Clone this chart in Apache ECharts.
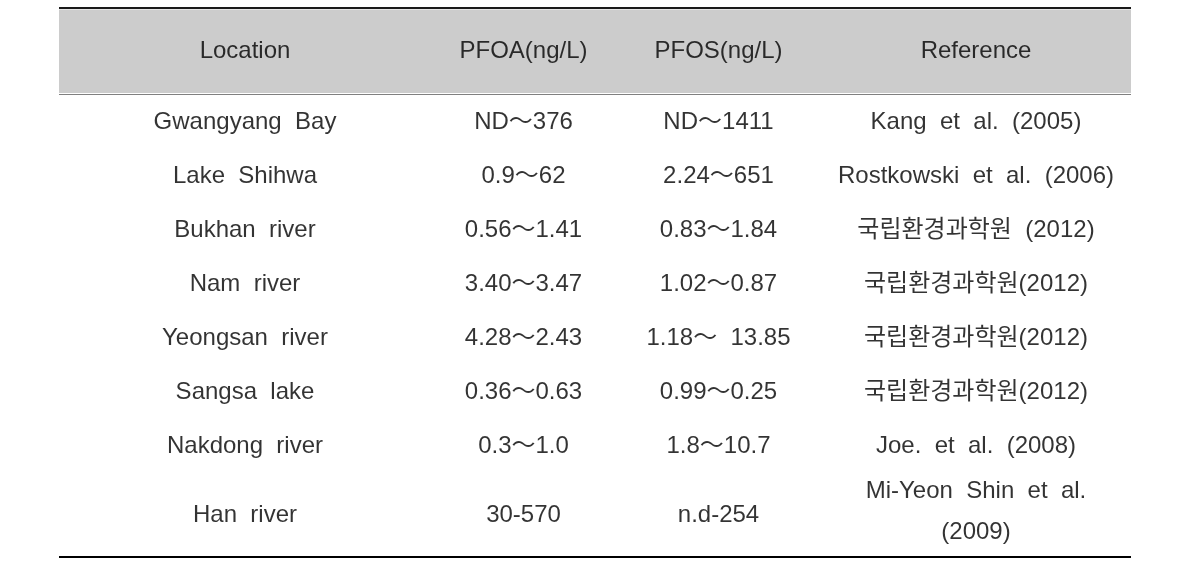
<!DOCTYPE html>
<html>
<head>
<meta charset="utf-8">
<script src="https://cdn.jsdelivr.net/npm/echarts@6/dist/echarts.min.js"></script>
<style>html,body{margin:0;padding:0;background:#fff;}#c{width:1189px;height:576px;}</style>
</head>
<body>
<div id="c"></div>
<script>
// ---- data ----
const headers = ['Location', 'PFOA(ng/L)', 'PFOS(ng/L)', 'Reference'];
const locations = ['Gwangyang  Bay', 'Lake  Shihwa', 'Bukhan  river', 'Nam  river', 'Yeongsan  river', 'Sangsa  lake', 'Nakdong  river', 'Han  river'];
const pfoa = ['ND～376', '0.9～62', '0.56～1.41', '3.40～3.47', '4.28～2.43', '0.36～0.63', '0.3～1.0', '30-570'];
const pfos = ['ND～1411', '2.24～651', '0.83～1.84', '1.02～0.87', '1.18～  13.85', '0.99～0.25', '1.8～10.7', 'n.d-254'];
const references = ['Kang  et  al.  (2005)', 'Rostkowski  et  al.  (2006)', '국립환경과학원  (2012)', '국립환경과학원(2012)', '국립환경과학원(2012)', '국립환경과학원(2012)', 'Joe.  et  al.  (2008)', 'Mi-Yeon  Shin  et  al.\n(2009)'];

// ---- layout (sizes in axis units) ----
const colWidths = [372, 185, 205, 310];
const tableH = 549;
const headerH = 86;
const firstRowOffset = 28;
const rowPitch = 54;
const lastRowExtra = 15;
const lastRowRefShift = -3;

const totalW = colWidths.reduce((a, b) => a + b, 0);
const colCenters = [];
let acc = 0;
colWidths.forEach(w => { colCenters.push(acc + w / 2); acc += w; });

function rowCenter(i, c) {
  let y = headerH + firstRowOffset + i * rowPitch;
  if (i === locations.length - 1) {
    y += lastRowExtra;
    if (c === 3) y += lastRowRefShift;
  }
  return y;
}

const cells = [];
headers.forEach((h, c) => cells.push({ value: [colCenters[c], headerH / 2 + 0.5], name: h }));
const columns = [locations, pfoa, pfos, references];
columns.forEach((col, c) => {
  col.forEach((t, r) => cells.push({ value: [colCenters[c], rowCenter(r, c)], name: t }));
});

const font = '"Liberation Sans", Arial, "Noto Sans CJK KR", sans-serif';

const chart = echarts.init(document.getElementById('c'), null, { renderer: 'canvas' });
chart.setOption({
  animation: false,
  backgroundColor: '#ffffff',
  grid: { left: 59, right: 58, top: 8, bottom: 576 - 8 - tableH },
  xAxis: { type: 'value', min: 0, max: totalW, show: false },
  yAxis: { type: 'value', min: 0, max: tableH, inverse: true, show: false },
  series: [{
    type: 'scatter',
    symbolSize: 0,
    data: cells,
    silent: true,
    label: {
      show: true,
      position: 'inside',
      formatter: p => p.name,
      fontSize: 24,
      fontFamily: font,
      color: '#000000',
      lineHeight: 41,
      align: 'center',
      verticalAlign: 'middle'
    },
    markArea: {
      silent: true,
      itemStyle: { color: '#cccccc' },
      data: [[{ xAxis: 0, yAxis: 1.5 }, { xAxis: totalW, yAxis: headerH - 1 }]]
    },
    markLine: {
      silent: true,
      symbol: ['none', 'none'],
      label: { show: false },
      data: [
        { yAxis: 0, lineStyle: { color: '#1a1a1a', width: 2, type: 'solid' } },
        { yAxis: headerH, lineStyle: { color: '#808080', width: 1, type: 'solid' } },
        { yAxis: tableH, lineStyle: { color: '#000000', width: 2, type: 'solid' } }
      ]
    },
    z: 3
  }]
});
</script>
</body>
</html>
